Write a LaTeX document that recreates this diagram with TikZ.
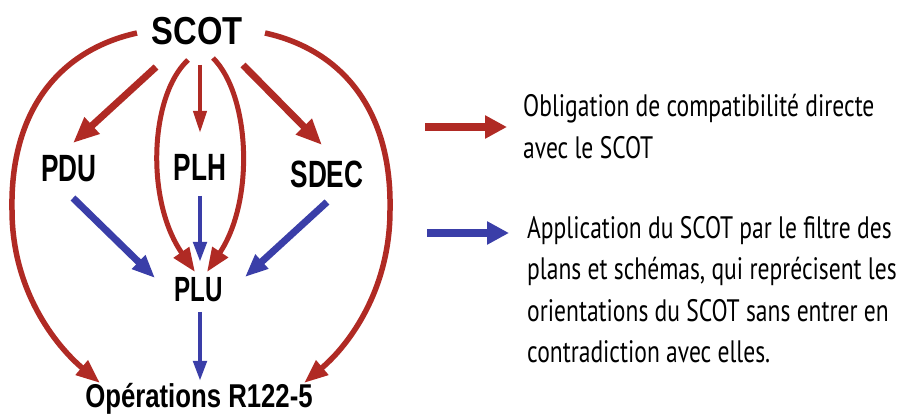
\documentclass[tikz,border=0pt]{standalone}
\usepackage{fontspec}
\usetikzlibrary{arrows.meta}
\newfontfamily\lblN{Liberation Sans}[FakeStretch=0.69]
\newfontfamily\lblS{Liberation Sans}[FakeStretch=0.84]
\newfontfamily\lblO{Liberation Sans}[FakeStretch=0.78]
\newfontfamily\legf{PT Sans}[FakeStretch=0.76]
\definecolor{arrred}{RGB}{176,42,36}
\definecolor{arrblue}{RGB}{58,62,168}
\begin{document}
\begin{tikzpicture}[x=1pt,y=-1pt,
  lbl/.style={inner sep=0pt, anchor=base, text=black},
  redthick/.style={draw=arrred, line width=7pt, -{Triangle[length=26pt,width=21pt]}},
  redarc/.style={draw=arrred, line width=5.5pt, -{Triangle[length=24pt,width=18pt]}},
  redthin/.style={draw=arrred, line width=4pt, -{Triangle[length=22pt,width=13pt]}},
  bluethick/.style={draw=arrblue, line width=7pt, -{Triangle[length=23pt,width=18pt]}},
  bluethin/.style={draw=arrblue, line width=4.5pt, -{Triangle[length=20pt,width=13pt]}},
  legred/.style={draw=arrred, line width=8pt, -{Triangle[length=22pt,width=22pt]}},
  legblue/.style={draw=arrblue, line width=8pt, -{Triangle[length=22pt,width=22pt]}},
  legtext/.style={inner sep=0pt, anchor=north west, align=left, font=\legf\fontsize{31}{41.5}\selectfont}
]
\useasboundingbox[fill=white] (0,0) rectangle (897,419);

% nodes
\node[lbl, font=\lblS\bfseries\fontsize{39}{39}\selectfont] (scot) at (197,45) {SCOT};
\node[lbl, font=\lblN\bfseries\fontsize{38}{38}\selectfont] (pdu) at (69,182) {PDU};
\node[lbl, font=\lblN\bfseries\fontsize{38}{38}\selectfont] (plh) at (200,181) {PLH};
\node[lbl, font=\lblN\bfseries\fontsize{38}{38}\selectfont] (sdec) at (327,188) {SDEC};
\node[lbl, font=\lblN\bfseries\fontsize{35}{35}\selectfont] (plu) at (199,302) {PLU};
\node[lbl, font=\lblO\bfseries\fontsize{33}{33}\selectfont] (ops) at (199,408) {Opérations R122-5};

% outer arcs
\draw[redarc] ([shift={(-60,-12)}]scot.base) .. controls (60,50) and (10,110) .. (12,210)
   .. controls (12,290) and (55,345) .. ([shift={(-99,-25)}]ops.base);
\draw[redarc] ([shift={(68,-12)}]scot.base) .. controls (342,50) and (392,110) .. (390,210)
   .. controls (390,290) and (349,345) .. ([shift={(105,-25)}]ops.base);

% inner ellipse arcs
\draw[redarc, line width=5pt] ([shift={(-9,15)}]scot.base) .. controls (150,95) and (145,200) .. ([shift={(-4,-30)}]plu.base);
\draw[redarc, line width=5pt] ([shift={(16,13)}]scot.base) .. controls (250,95) and (255,200) .. ([shift={(8,-30)}]plu.base);

% straight red arrows
\draw[redthick] ([shift={(-41,22)}]scot.base) -- ([shift={(4,-39)}]pdu.base);
\draw[redthin] ([shift={(3,20)}]scot.base) -- ([shift={(0,-48)}]plh.base);
\draw[redthick] ([shift={(46,20)}]scot.base) -- ([shift={(-5,-43)}]sdec.base);

% blue arrows
\draw[bluethick] ([shift={(4,16)}]pdu.base) -- ([shift={(-44,-24)}]plu.base);
\draw[bluethin] ([shift={(0,15)}]plh.base) -- ([shift={(1,-40)}]plu.base);
\draw[bluethick] ([shift={(0,14)}]sdec.base) -- ([shift={(46,-25)}]plu.base);
\draw[bluethin] ([shift={(1,10)}]plu.base) -- ([shift={(1,-27)}]ops.base);

% legend
\coordinate (r1) at (425,127);
\coordinate (r2) at (507,127);
\draw[legred] (r1) -- (r2);
\coordinate (b1) at (427,233);
\coordinate (b2) at (509,233);
\draw[legblue] (b1) -- (b2);
\node[legtext] (ltr) at (523,94) {Obligation de compatibilité directe\\avec le SCOT};
\node[legtext] (ltb) at (527,216) {Application du SCOT par le filtre des\\plans et schémas, qui reprécisent les\\orientations du SCOT sans entrer en\\contradiction avec elles.};
\end{tikzpicture}
\end{document}
